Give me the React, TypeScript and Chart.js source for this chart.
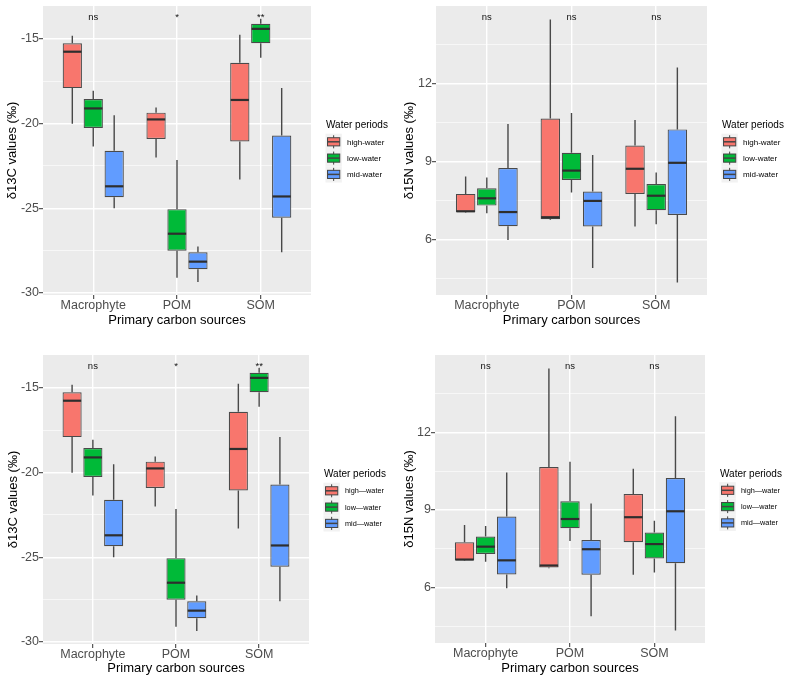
import React, { useEffect, useRef } from 'react';
import { Chart, registerables } from 'chart.js';
Chart.register(...registerables);

// ---------------- data ----------------
const categories = ['Macrophyte', 'POM', 'SOM'];
const periodLabels = ['high-water', 'low-water', 'mid-water'];
const periodLabelsDash = ['high\u2014water', 'low\u2014water', 'mid\u2014water'];
const periodColors = ['#F8766D', '#00BA38', '#619CFF'];

// [min, q1, median, q3, max] per category (Macrophyte, POM, SOM)
const c13High = [[-20.0, -17.9, -15.75, -15.25, -14.8], [-22.0, -20.9, -19.75, -19.35, -19.05], [-23.3, -21.05, -18.6, -16.4, -14.75]];
const c13Low = [[-21.35, -20.25, -19.1, -18.55, -18.05], [-29.1, -27.5, -26.5, -25.05, -22.15], [-16.1, -15.25, -14.4, -14.1, -13.8]];
const c13Mid = [[-25.0, -24.35, -23.7, -21.6, -19.5], [-29.35, -28.6, -28.15, -27.6, -27.25], [-27.6, -25.55, -24.3, -20.7, -17.9]];

const n15High = [[7.03, 7.05, 7.08, 7.75, 8.42], [6.74, 6.77, 6.85, 10.66, 14.48], [6.49, 7.75, 8.72, 9.62, 10.6]];
const n15Low = [[7.0, 7.3, 7.58, 7.97, 8.38], [7.8, 8.29, 8.65, 9.34, 10.87], [6.58, 7.12, 7.68, 8.13, 8.58]];
const n15Mid = [[5.97, 6.5, 7.05, 8.75, 10.45], [4.89, 6.49, 7.48, 7.84, 9.25], [4.33, 6.94, 8.95, 10.24, 12.63]];

const c13Signif = ['ns', '*', '**'];
const n15Signif = ['ns', 'ns', 'ns'];

const c13MajorTicks = [-30, -25, -20, -15];
const c13MinorTicks = [-27.5, -22.5, -17.5];
const n15MajorTicks = [6, 9, 12];
const n15MinorTicks = [4.5, 7.5, 10.5, 13.5];

const c13Range = [-30.12, -13.05];
const n15Range = [3.85, 15.0];
const c13SignifY = -13.86;
const n15SignifY = 14.46;

const xTitle = 'Primary carbon sources';
const c13Title = '\u03B413C values (\u2030)';
const n15Title = '\u03B415N values (\u2030)';
const legendTitle = 'Water periods';

// ---------------- styling ----------------
const FONT = "'Liberation Sans', Arial, Helvetica, sans-serif";

type PanelProps = {
  left: number; top: number; w: number; h: number;
  padTop: number; padRight: number; yW: number; xH: number;
  yTitlePad: number; xTitlePad: number;
  series: number[][][];
  legendLabels: string[];
  legendFont: number;
  signif: string[]; signifY: number;
  major: number[]; minor: number[]; range: number[];
  yTitle: string;
};

function makePlugin(p: PanelProps) {
  return {
    id: 'boxExtras',
    beforeDraw(chart: any) {
      const { ctx, chartArea: a } = chart;
      ctx.save();
      ctx.fillStyle = '#FFFFFF';
      ctx.fillRect(0, 0, chart.width, chart.height);
      ctx.fillStyle = '#EBEBEB';
      ctx.fillRect(a.left, a.top, a.right - a.left, a.bottom - a.top);
      ctx.restore();
    },
    beforeDatasetsDraw(chart: any) {
      const { ctx } = chart;
      const ys = chart.scales.y;
      ctx.save();
      ctx.strokeStyle = '#484848';
      ctx.lineWidth = 1.4;
      chart.data.datasets.forEach((ds: any, i: number) => {
        const meta = chart.getDatasetMeta(i);
        meta.data.forEach((el: any, j: number) => {
          const st = ds.stats[j];
          const { x } = el.getProps(['x'], true);
          ctx.beginPath();
          ctx.moveTo(x, ys.getPixelForValue(st[3]));
          ctx.lineTo(x, ys.getPixelForValue(st[4]));
          ctx.moveTo(x, ys.getPixelForValue(st[1]));
          ctx.lineTo(x, ys.getPixelForValue(st[0]));
          ctx.stroke();
        });
      });
      ctx.restore();
    },
    afterDatasetsDraw(chart: any) {
      const { ctx, chartArea: a } = chart;
      const ys = chart.scales.y;
      const xs = chart.scales.x;
      ctx.save();
      // medians
      ctx.strokeStyle = '#2E2E2E';
      ctx.lineWidth = 2.2;
      chart.data.datasets.forEach((ds: any, i: number) => {
        const meta = chart.getDatasetMeta(i);
        meta.data.forEach((el: any, j: number) => {
          const st = ds.stats[j];
          const { x, width } = el.getProps(['x', 'width'], true);
          const y = ys.getPixelForValue(st[2]);
          ctx.beginPath();
          ctx.moveTo(x - width / 2 + 0.5, y);
          ctx.lineTo(x + width / 2 - 0.5, y);
          ctx.stroke();
        });
      });
      // significance labels
      ctx.fillStyle = '#111111';
      ctx.font = `9.5px ${FONT}`;
      ctx.textAlign = 'center';
      ctx.textBaseline = 'alphabetic';
      p.signif.forEach((s, j) => {
        ctx.fillText(s, xs.getPixelForValue(j + 1), ys.getPixelForValue(p.signifY));
      });
      // legend
      const lx = a.right + 14.5;
      const cy = (a.top + a.bottom) / 2;
      ctx.textAlign = 'left';
      ctx.textBaseline = 'middle';
      ctx.fillStyle = '#000000';
      ctx.font = `10px ${FONT}`;
      ctx.fillText(legendTitle, lx + 0.5, cy - 25);
      const ks = 16.3;
      p.legendLabels.forEach((lab, i) => {
        const kcy = cy - 8.7 + i * 16.3;
        const kx = lx;
        const ky = kcy - ks / 2;
        ctx.fillStyle = '#F2F2F2';
        ctx.fillRect(kx, ky, ks, ks);
        ctx.strokeStyle = '#444444';
        ctx.lineWidth = 1;
        ctx.beginPath();
        ctx.moveTo(kx + ks / 2, ky + ks * 0.1);
        ctx.lineTo(kx + ks / 2, ky + ks * 0.9);
        ctx.stroke();
        ctx.fillStyle = periodColors[i];
        const bx = kx + ks * 0.125, bw = ks * 0.75, by = ky + ks * 0.25, bh = ks * 0.5;
        ctx.fillRect(bx, by, bw, bh);
        ctx.strokeRect(bx, by, bw, bh);
        ctx.lineWidth = 1.5;
        ctx.beginPath();
        ctx.moveTo(bx, kcy);
        ctx.lineTo(bx + bw, kcy);
        ctx.stroke();
        ctx.fillStyle = '#000000';
        ctx.font = `${p.legendFont}px ${FONT}`;
        ctx.fillText(lab, lx + 21.5, kcy + 0.5);
      });
      ctx.restore();
    },
  };
}

function Panel(p: PanelProps) {
  const ref = useRef<HTMLCanvasElement | null>(null);
  useEffect(() => {
    if (!ref.current) return;
    const allTicks = [...p.major, ...p.minor].sort((a, b) => a - b);
    const isMajor = (v: number) => p.major.some((m) => Math.abs(m - v) < 1e-9);
    const datasets = p.series.map((s, i) => ({
      label: p.legendLabels[i],
      data: s.map((st, j) => ({ x: j + 1, y: [st[1], st[3]] })),
      stats: s,
      backgroundColor: periodColors[i],
      borderColor: '#4A4A4A',
      borderWidth: 1.2,
      borderSkipped: false,
      categoryPercentage: 0.75,
      barPercentage: 0.92,
    }));
    const chart = new Chart(ref.current, {
      type: 'bar',
      data: { datasets } as any,
      plugins: [makePlugin(p) as any],
      options: {
        animation: false,
        responsive: false,
        devicePixelRatio: 1,
        layout: { padding: { left: 0, top: p.padTop, right: p.padRight, bottom: 0 } },
        plugins: { legend: { display: false }, tooltip: { enabled: false } },
        scales: {
          x: {
            type: 'linear',
            offset: false,
            min: 0.4,
            max: 3.6,
            afterBuildTicks: (s: any) => { s.ticks = categories.map((_, i) => ({ value: i + 1 })); },
            afterFit: (s: any) => { s.height = p.xH; s.paddingLeft = 0; s.paddingRight = 0; },
            ticks: {
              autoSkip: false,
              maxRotation: 0,
              padding: 0,
              color: '#4D4D4D',
              font: { family: FONT, size: 12.5, lineHeight: 1 },
              callback: (v: any) => categories[Math.round(Number(v)) - 1] ?? '',
            },
            grid: { offset: false, color: '#FFFFFF', lineWidth: 1.4, tickColor: '#333333', tickLength: 4, tickWidth: 1 },
            border: { display: false },
            title: {
              display: true, text: xTitle, color: '#000000',
              font: { family: FONT, size: 13, lineHeight: 1.2 },
              padding: { top: 0, bottom: p.xTitlePad },
            },
          },
          y: {
            type: 'linear',
            min: p.range[0],
            max: p.range[1],
            afterBuildTicks: (s: any) => { s.ticks = allTicks.map((v) => ({ value: v })); },
            afterFit: (s: any) => { s.width = p.yW; s.paddingTop = 0; s.paddingBottom = 0; },
            ticks: {
              autoSkip: false,
              padding: 0,
              color: '#4D4D4D',
              font: { family: FONT, size: 12.5, lineHeight: 1 },
              callback: (v: any) => (isMajor(Number(v)) ? String(v) : ''),
            },
            grid: {
              color: '#FFFFFF',
              lineWidth: (c: any) => (c.tick && isMajor(c.tick.value) ? 1.4 : 0.6),
              tickColor: (c: any) => (c.tick && isMajor(c.tick.value) ? '#333333' : 'rgba(0,0,0,0)'),
              tickLength: 4,
              tickWidth: 1,
            },
            border: { display: false },
            title: {
              display: true, text: p.yTitle, color: '#000000',
              font: { family: FONT, size: 13, lineHeight: 1.2 },
              padding: { top: p.yTitlePad, bottom: 0 },
            },
          },
        },
      } as any,
    });
    return () => chart.destroy();
  }, []);
  return (
    <canvas
      ref={ref}
      width={p.w}
      height={p.h}
      style={{ position: 'absolute', left: p.left, top: p.top, width: p.w, height: p.h, display: 'block' }}
    />
  );
}

export default function App() {
  const c13Series = [c13High, c13Low, c13Mid];
  const n15Series = [n15High, n15Low, n15Mid];
  return (
    <div style={{ position: 'absolute', left: 0, top: 0, width: 788, height: 680, background: '#FFFFFF', overflow: 'hidden' }}>
      <Panel left={0} top={0} w={394} h={340} padTop={6} padRight={83} yW={43} xH={45} yTitlePad={4.7} xTitlePad={12}
        series={c13Series} legendLabels={periodLabels} legendFont={8} signif={c13Signif} signifY={c13SignifY}
        major={c13MajorTicks} minor={c13MinorTicks} range={c13Range} yTitle={c13Title} />
      <Panel left={394} top={0} w={394} h={340} padTop={6} padRight={81} yW={42} xH={45} yTitlePad={7.7} xTitlePad={12}
        series={n15Series} legendLabels={periodLabels} legendFont={8} signif={n15Signif} signifY={n15SignifY}
        major={n15MajorTicks} minor={n15MinorTicks} range={n15Range} yTitle={n15Title} />
      <Panel left={0} top={340} w={394} h={340} padTop={15} padRight={85} yW={43} xH={36} yTitlePad={5.2} xTitlePad={4.2}
        series={c13Series} legendLabels={periodLabelsDash} legendFont={7.3} signif={c13Signif} signifY={c13SignifY}
        major={c13MajorTicks} minor={c13MinorTicks} range={c13Range} yTitle={c13Title} />
      <Panel left={394} top={340} w={394} h={340} padTop={15} padRight={83} yW={41} xH={37} yTitlePad={7.2} xTitlePad={4.2}
        series={n15Series} legendLabels={periodLabelsDash} legendFont={7.3} signif={n15Signif} signifY={n15SignifY}
        major={n15MajorTicks} minor={n15MinorTicks} range={n15Range} yTitle={n15Title} />
    </div>
  );
}
